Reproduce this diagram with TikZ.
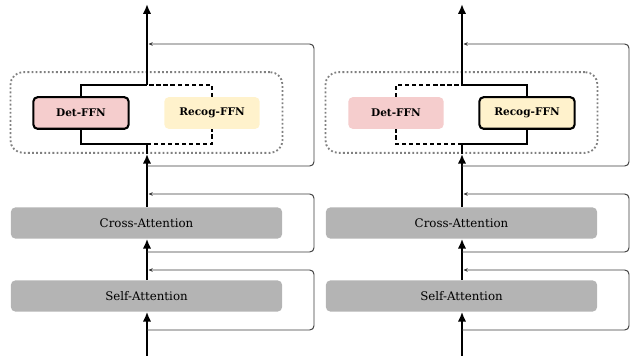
\documentclass[tikz,border=0pt]{standalone}
\usepackage{fontspec}
\setmainfont{DejaVu Serif}
\usetikzlibrary{positioning, calc, fit, arrows.meta, shapes}

\definecolor{detpink}{RGB}{245,205,205}
\definecolor{recogyellow}{RGB}{255,242,204}
\definecolor{attngray}{RGB}{180,180,180}
\definecolor{loopgray}{RGB}{60,60,60}

\tikzset{
    attn/.style={fill=attngray, rounded corners=3pt, minimum width=6.775cm, minimum height=0.775cm, inner sep=0pt, font=\fontsize{8.4}{10}\selectfont},
    ffn/.style={rounded corners=3pt, minimum width=2.38cm, minimum height=0.79cm, inner sep=0pt, font=\fontsize{7.5}{9}\selectfont\bfseries},
    ffnon/.style={ffn, draw=black, line width=1.5pt},
    ffnoff/.style={ffn},
    moebox/.style={draw=gray, line width=1.3pt, dash pattern=on 1.3pt off 1.6pt, rounded corners=9pt, minimum width=6.8cm, minimum height=2.02cm},
    mainarrow/.style={line width=1.8pt, -{Latex[length=7pt, width=6pt]}},
    route/.style={line width=0.75pt},
    routeoff/.style={line width=0.75pt, dash pattern=on 3pt off 2pt},
    resid/.style={loopgray, line width=0.7pt, rounded corners=3pt, -{Stealth[length=3pt, width=2.6pt]}}
}

\begin{document}
\begin{tikzpicture}[x=0.025cm, y=-0.025cm]
    \useasboundingbox (0,0) rectangle (640,360);
    \foreach \i/\o/\on/\off/\ds/\rs in {1/0/det/rec/ffnon/ffnoff, 2/315/rec/det/ffnoff/ffnon} {
    % blocks
    \node[moebox] (moe\i) at (146.5+\o,112.5) {};
    \node[attn] (sa\i) at (146.5+\o,296) {Self-Attention};
    \node[attn] (ca\i) at (146.5+\o,223) {Cross-Attention};
    \node[\ds, fill=detpink] (det\i) at (81+\o,113) {Det-FFN};
    \node[\rs, fill=recogyellow] (rec\i) at (212+\o,113) {Recog-FFN};
    \coordinate (in\i) at (147+\o,356);
    \coordinate (out\i) at (147+\o,4);
    \coordinate (t\i) at (147+\o,85);
    \coordinate (b\i) at (147+\o,144);
    \coordinate (rx\i) at (314+\o,0);
    % main path
    \draw[mainarrow] (in\i) -- (in\i |- sa\i.south);
    \draw[mainarrow] (in\i |- sa\i.north) -- (in\i |- ca\i.south);
    \draw[mainarrow] (in\i |- ca\i.north) -- (in\i |- moe\i.south);
    \draw[route] (in\i |- moe\i.south) -- (b\i);
    \draw[mainarrow] (t\i) -- (out\i);
    % routing
    \draw[route] (b\i) -| (\on\i.south);
    \draw[route] (\on\i.north) |- (t\i);
    \draw[routeoff] (b\i) -| (\off\i.south);
    \draw[routeoff] (\off\i.north) |- (t\i);
    % residuals
    \foreach \s/\e in {330/270, 252/194, 166/44} {
    \draw[resid] (147+\o,\s) -- (rx\i |- {0,\s}) -- (rx\i |- {0,\e}) -- (148.5+\o,\e);
    }
    }
\end{tikzpicture}
\end{document}
